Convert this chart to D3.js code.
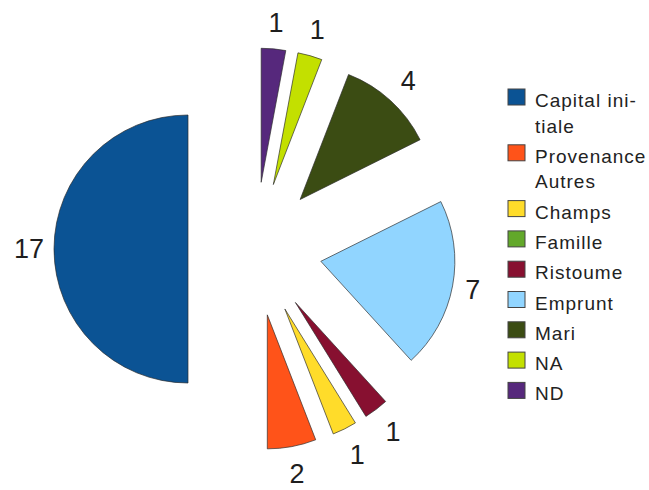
<!DOCTYPE html>
<html>
<head>
<meta charset="utf-8">
<script src="https://cdn.jsdelivr.net/npm/d3@7"></script>
<style>
  html, body { margin: 0; padding: 0; background: #fff; }
  svg { display: block; }
</style>
</head>
<body>
<svg id="chart" width="649" height="490"></svg>
<script>
// Categories (legend order), values and colours
const categories = ["Capital initiale", "Provenance Autres", "Champs", "Famille", "Ristoume", "Emprunt", "Mari", "NA", "ND"];
const legendLines = [["Capital ini-", "tiale"], ["Provenance", "Autres"], ["Champs"], ["Famille"], ["Ristoume"], ["Emprunt"], ["Mari"], ["NA"], ["ND"]];
const values = [17, 2, 1, 0, 1, 7, 4, 1, 1];
const colors = ["#0b5394", "#ff5319", "#ffdc2a", "#62a82a", "#871030", "#91d5ff", "#3b4c13", "#c3e000", "#56287c"];

const svg = d3.select("#chart");
const cx = 255, cy = 249, r = 134;
const explode = r * 0.5;
const labelFont = 27;

const data = categories.map((c, i) => ({ name: c, value: values[i], color: colors[i], lines: legendLines[i] }));

// Slices run counter-clockwise from 12 o'clock
const pie = d3.pie().sort(null).value(d => d.value).startAngle(0).endAngle(-2 * Math.PI);
const arcs = pie(data).filter(a => a.data.value > 0);
const arc = d3.arc().innerRadius(0).outerRadius(r);
const mid = a => (a.startAngle + a.endAngle) / 2;

// Distance of a value label from its slice apex: keep the text box clear of the arc
function labelDist(a) {
  const m = mid(a);
  const w = 0.556 * labelFont * String(a.data.value).length;
  const h = 1.15 * labelFont;
  const s = Math.abs(Math.sin(m)), c = Math.cos(m);
  return 144 + s * w / 2 + Math.abs(c) * h / 2 + (c < 0 ? -c * 1.5 : 0);
}

const g = svg.append("g").attr("transform", `translate(${cx},${cy})`);

const slice = g.selectAll("g.slice").data(arcs).join("g")
  .attr("class", "slice")
  .attr("transform", a => `translate(${Math.sin(mid(a)) * explode},${-Math.cos(mid(a)) * explode})`);

slice.append("path")
  .attr("d", arc)
  .attr("fill", a => a.data.color)
  .attr("stroke", "#2a2a2a")
  .attr("stroke-opacity", 0.75)
  .attr("stroke-width", 0.9)
  .attr("stroke-linejoin", "round");

slice.append("text")
  .attr("x", a => Math.sin(mid(a)) * labelDist(a))
  .attr("y", a => -Math.cos(mid(a)) * labelDist(a))
  .attr("text-anchor", "middle")
  .attr("dominant-baseline", "central")
  .attr("font-family", "Liberation Sans, Arial, sans-serif")
  .attr("font-size", labelFont)
  .attr("fill", "#1e1e1e")
  .text(a => a.data.value);

// Legend
const legend = svg.append("g").attr("transform", "translate(508,0)");
const rowGap = 30.3, lineGap = 25.5;
let y = 107;
data.forEach(d => {
  const row = legend.append("g");
  row.append("rect")
    .attr("x", 0).attr("y", y - 18)
    .attr("width", 17).attr("height", 16)
    .attr("fill", d.color)
    .attr("stroke", "#444").attr("stroke-width", 1);
  d.lines.forEach((t, k) => {
    row.append("text")
      .attr("x", 27).attr("y", y + k * lineGap)
      .attr("font-family", "Liberation Sans, Arial, sans-serif")
      .attr("font-size", 19)
      .attr("letter-spacing", 1)
      .attr("fill", "#222")
      .text(t);
  });
  y += (d.lines.length - 1) * lineGap + rowGap;
});
</script>
</body>
</html>
